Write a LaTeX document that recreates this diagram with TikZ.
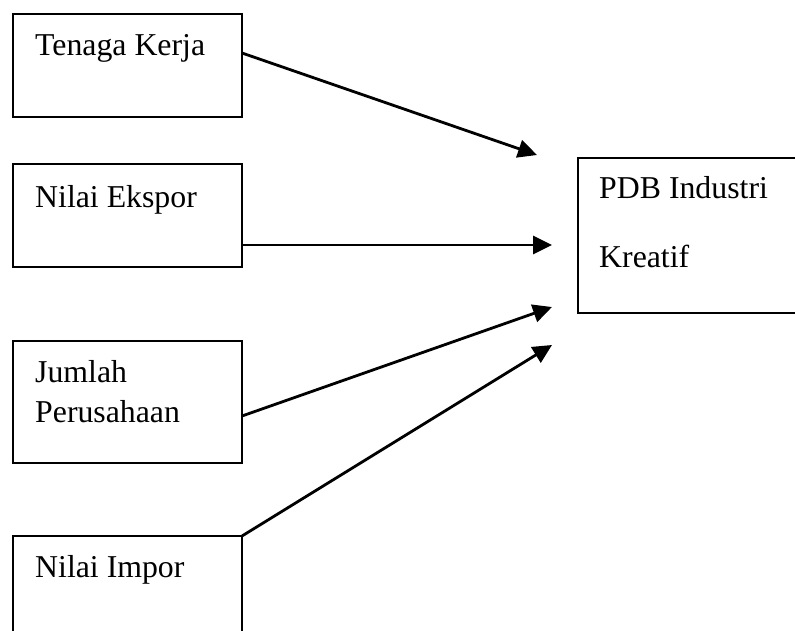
\documentclass[tikz,border=0pt]{standalone}
\usepackage{fontspec}
\setmainfont{Liberation Serif}
\usetikzlibrary{arrows.meta}
\begin{document}
\begin{tikzpicture}[x=1pt,y=-1pt,
  box/.style={draw, line width=2.8pt, rectangle, inner sep=0pt, outer sep=0pt, anchor=north west},
  lbl/.style={anchor=base west, inner sep=0pt, font=\fontsize{31.8}{36}\selectfont},
  conn/.style={line width=2.8pt, -{Triangle[length=19pt,width=18pt]}}]
\useasboundingbox (0,0) rectangle (795,630);
\node[box, minimum width=229pt, minimum height=103pt] (b1) at (13,14) {};
\node[box, minimum width=229pt, minimum height=103pt] (b2) at (13,164) {};
\node[box, minimum width=229pt, minimum height=122pt] (b3) at (13,341) {};
\node[box, minimum width=229pt, minimum height=110pt] (b4) at (13,536) {};
\node[box, minimum width=235pt, minimum height=155pt] (p) at (578,158) {};
\node[lbl] (t1) at (35,55) {Tenaga Kerja};
\node[lbl] (t2) at (35,207) {Nilai Ekspor};
\node[lbl] (t3a) at (35,382) {Jumlah};
\node[lbl] (t3b) at (35,422) {Perusahaan};
\node[lbl] (t4) at (35,577) {Nilai Impor};
\node[lbl] (tp1) at (599,198) {PDB Industri};
\node[lbl] (tp2) at (599,267) {Kreatif};
\coordinate (s1) at (242,53);
\coordinate (s2) at (242,245);
\coordinate (s3) at (242,416);
\coordinate (s4) at (b4.north east);
\coordinate (e1) at (537,155);
\coordinate (e2) at (552,245);
\coordinate (e3) at (552,307);
\coordinate (e4) at (552,345);
\draw[conn] (s1) -- (e1);
\draw[conn] (s2) -- (e2);
\draw[conn] (s3) -- (e3);
\draw[conn] (s4) -- (e4);
\end{tikzpicture}
\end{document}
